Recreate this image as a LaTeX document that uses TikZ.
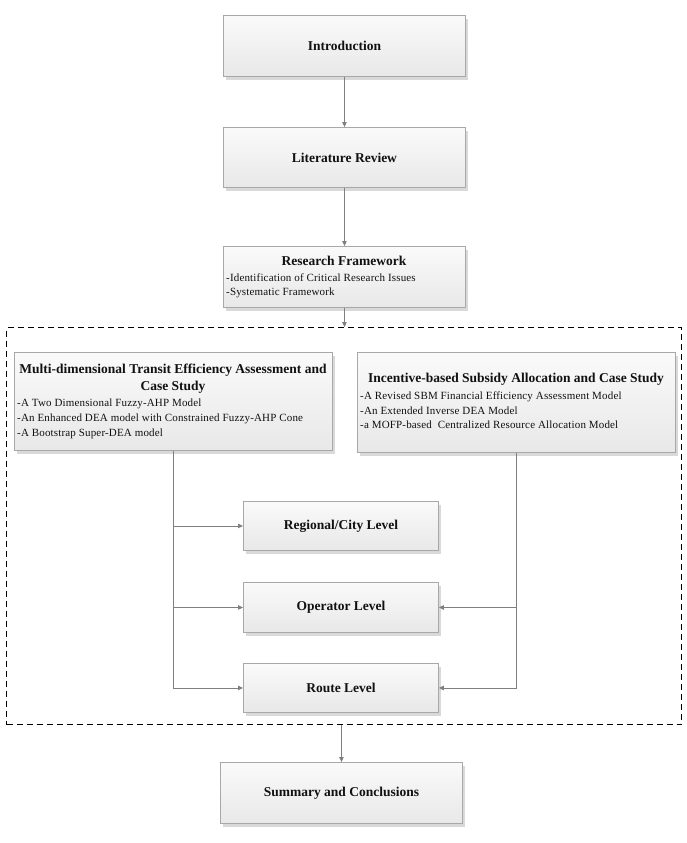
\documentclass[tikz,border=0pt]{standalone}
\usepackage{fontspec}
\setmainfont{Liberation Serif}
\newfontfamily\bodyfont[LetterSpace=1.5]{Liberation Serif}
\usetikzlibrary{shadows,arrows.meta}
\definecolor{boxborder}{HTML}{A8A8A8}
\definecolor{arrowgray}{HTML}{7F7F7F}
\definecolor{txt}{HTML}{111111}
\tikzset{
  box/.style={draw=boxborder, line width=0.9pt, top color=white!98!black, bottom color=white!91!black,
    drop shadow={shadow xshift=3pt, shadow yshift=-4pt, fill=black!25, opacity=0.6},
    inner sep=0pt, anchor=north west},
  ttl/.style={font=\fontsize{13.5}{16}\selectfont\bfseries, text=txt, inner sep=0pt},
  bul/.style={font=\bodyfont\fontsize{11}{14}\selectfont, text=txt, inner sep=0pt, anchor=west},
  arr/.style={draw=arrowgray, line width=0.9pt, -{Triangle[length=5pt,width=4.5pt]}},
  frame/.style={draw=black, line width=1pt, dash pattern=on 6pt off 4pt, inner sep=0pt, anchor=north west}
}
\begin{document}
\begin{tikzpicture}[x=1pt,y=-1pt]
\useasboundingbox (0,0) rectangle (687,843);

% dashed frame
\node[frame, minimum width=675, minimum height=397] (frame) at (6,327) {};

% top chain
\node[box, minimum width=242, minimum height=61] (intro) at (223,15) {};
\node[ttl] (introt) at (intro.center) {Introduction};
\node[box, minimum width=242, minimum height=60] (lit) at (223,127) {};
\node[ttl] (litt) at (lit.center) {Literature Review};
\node[box, minimum width=242, minimum height=61] (rf) at (223,246) {};
\node[ttl] (rft) at (344,261) {Research Framework};
\node[bul] (rf1) at (226,278) {-Identification of Critical Research Issues};
\node[bul] (rf2) at (226,293) {-Systematic Framework};

% two study boxes
\node[box, minimum width=318, minimum height=98] (multi) at (14,352) {};
\node[ttl] (mt1) at (173,370) {Multi-dimensional Transit Efficiency Assessment and};
\node[ttl] (mt2) at (173,387) {Case Study};
\node[bul] (m1) at (17,404) {-A Two Dimensional Fuzzy-AHP Model};
\node[bul] (m2) at (17,419) {-An Enhanced DEA model with Constrained Fuzzy-AHP Cone};
\node[bul] (m3) at (17,434) {-A Bootstrap Super-DEA model};

\node[box, minimum width=318, minimum height=100] (inc) at (357,352) {};
\node[ttl] (it) at (516,379) {Incentive-based Subsidy Allocation and Case Study};
\node[bul] (i1) at (360,397) {-A Revised SBM Financial Efficiency Assessment Model};
\node[bul] (i2) at (360,411) {-An Extended Inverse DEA Model};
\node[bul] (i3) at (360,425) {-a MOFP-based\ \ Centralized Resource Allocation Model};

% levels
\node[box, minimum width=195, minimum height=49] (reg) at (243,501) {};
\node[ttl] (regt) at (reg.center) {Regional/City Level};
\node[box, minimum width=195, minimum height=50] (op) at (243,582) {};
\node[ttl] (opt) at (op.center) {Operator Level};
\node[box, minimum width=195, minimum height=49] (route) at (243,663) {};
\node[ttl] (routet) at (route.center) {Route Level};

% summary
\node[box, minimum width=242, minimum height=61] (sum) at (220,762) {};
\node[ttl] (sumt) at (sum.center) {Summary and Conclusions};

% connectors
\draw[arr] (intro) -- (lit);
\draw[arr] (lit) -- (rf);
\draw[arr] (rf.south) -- (rf.south |- frame.north);
\draw[arr] (multi.south) |- (route.west);
\draw[arr] (multi.south |- reg.west) -- (reg.west);
\draw[arr] (multi.south |- op.west) -- (op.west);
\draw[arr] (inc.south) |- (route.east);
\draw[arr] (inc.south |- op.east) -- (op.east);
\draw[arr] (sum.north |- frame.south) -- (sum.north);
\end{tikzpicture}
\end{document}
